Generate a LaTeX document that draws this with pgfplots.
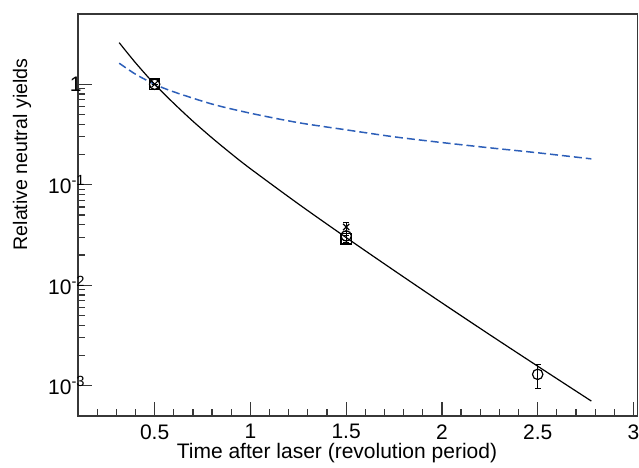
\documentclass[border=0pt]{standalone}
\usepackage{fontspec}
\setmainfont{Liberation Sans}
\usepackage{pgfplots}
\pgfplotsset{compat=1.18}
\definecolor{fitblue}{RGB}{45,95,185}
\definecolor{frame}{RGB}{55,55,55}

\begin{document}
\fontsize{10.5}{12.6}\selectfont
\begin{tikzpicture}
\begin{axis}[name=ax, scale only axis, width=279.6pt, height=201pt,
    ymode=log, xmin=0.1, xmax=3.02, ymin=5e-4, ymax=5,
    xtick={0.5,1,1.5,2,2.5,3}, xticklabels={0.5,1,1.5,2,2.5,3},
    minor xtick={0.2,0.3,0.4,0.6,0.7,0.8,0.9,1.1,1.2,1.3,1.4,1.6,1.7,1.8,1.9,2.1,2.2,2.3,2.4,2.6,2.7,2.8,2.9},
    ytick={1e-3,1e-2,1e-1,1},
    yticklabels={10\textsuperscript{-3},10\textsuperscript{-2},10\textsuperscript{-1},1\kern2pt},
    tick align=inside, tick pos=left, major tick length=7pt, minor tick length=3.5pt,
    axis line style={frame, line width=0.75pt},
    every tick/.style={frame, line width=0.6pt},
    xticklabel style={inner sep=0pt, yshift=-4pt},
    yticklabel style={anchor=east, inner sep=0pt, xshift=4pt},
    xlabel={Time after laser (revolution period)},
    ylabel={Relative neutral yields},
    xlabel style={at={(axis description cs:0.463,-0.067)}, anchor=north, inner sep=0pt},
    ylabel style={at={(axis description cs:-0.1,0.89)}, anchor=east, inner sep=0pt,
      font=\fontsize{9.8}{12}\selectfont}]

  % fit curves
  \addplot[black, line width=0.6pt, smooth, tension=0.5] coordinates {
    (0.315,2.594) (0.4,1.637) (0.5,1.0) (0.6,0.6457) (0.7,0.4285) (0.8,0.2924)
    (0.9,0.2037) (1.0,0.1445) (1.25,0.0646) (1.5,0.02985) (1.75,0.01404)
    (2.0,0.00668) (2.25,0.003218) (2.5,0.001567) (2.78,0.000705)};
  \addplot[fitblue, line width=0.75pt, dash pattern=on 4pt off 2pt, smooth] coordinates {
    (0.315,1.62) (0.4,1.26) (0.5,1.0) (0.6,0.84) (0.8,0.635) (1.0,0.515)
    (1.25,0.415) (1.5,0.352) (1.75,0.30) (2.0,0.263) (2.25,0.233)
    (2.5,0.208) (2.78,0.181)};

  % measured yields
  \addplot[black, line width=0.6pt, only marks, mark=square, mark size=2.6pt,
    error bars/.cd, y dir=both, y explicit,
    error bar style={line width=0.5pt}, error mark options={rotate=90, mark size=1.5pt}]
    coordinates {(0.5,1) +- (0,0) (1.5,0.029) +- (0,0.002)};
  \addplot[black, line width=0.6pt, only marks, mark=o, mark size=2.6pt,
    error bars/.cd, y dir=both, y explicit,
    error bar style={line width=0.5pt}, error mark options={rotate=90, mark size=1.5pt}]
    coordinates {(0.5,1) +- (0,0) (1.5,0.031) +- (0,0.003) (2.5,0.0013) +- (0,0.00035)};
  \addplot[black, line width=0.6pt, only marks, mark=x, mark size=2.2pt,
    error bars/.cd, y dir=both, y explicit,
    error bar style={line width=0.5pt}, error mark options={rotate=90, mark size=1.5pt}]
    coordinates {(0.5,1) +- (0,0) (1.5,0.038) +- (0,0.004)};
\end{axis}
\pgfresetboundingbox
\path[use as bounding box] ([shift={(-39pt,-25.5pt)}]ax.south west)
  rectangle ([shift={(0.85pt,7pt)}]ax.north east);
\end{tikzpicture}
\end{document}
